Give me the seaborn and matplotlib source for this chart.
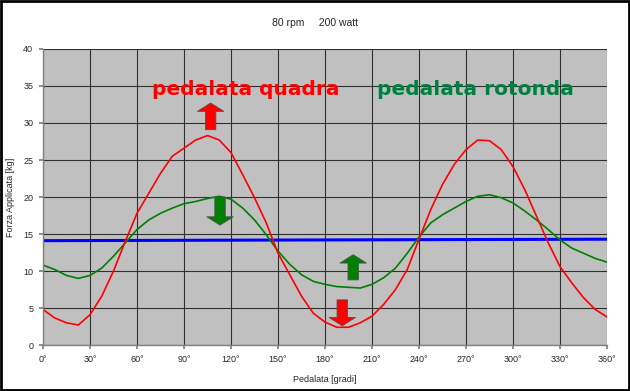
import seaborn as sns
import matplotlib.pyplot as plt
import pandas as pd
from matplotlib.patches import Rectangle

# Dati (passo di 7,5 gradi)
gradi = [i * 7.5 for i in range(49)]
forza_quadra = [4.8, 3.65, 3.0, 2.7, 4.1, 6.6, 10.0, 14.0, 17.8, 20.5, 23.2, 25.5,
                26.6, 27.7, 28.3, 27.7, 26.0, 23.0, 19.9, 16.5, 12.4, 9.5, 6.6, 4.3,
                3.1, 2.4, 2.4, 3.0, 3.9, 5.5, 7.5, 10.2, 14.3, 18.3, 21.7, 24.4,
                26.4, 27.7, 27.6, 26.4, 24.1, 21.0, 17.4, 13.8, 10.6, 8.4, 6.4, 4.8, 3.8]
forza_rotonda = [10.8, 10.2, 9.4, 9.0, 9.4, 10.4, 12.0, 13.8, 15.6, 16.9, 17.8, 18.5,
                 19.1, 19.4, 19.8, 20.1, 19.7, 18.5, 16.9, 14.9, 12.7, 10.9, 9.5, 8.6,
                 8.2, 7.9, 7.8, 7.7, 8.2, 9.1, 10.4, 12.4, 14.6, 16.5, 17.6, 18.5,
                 19.4, 20.1, 20.3, 19.9, 19.2, 18.1, 16.9, 15.6, 14.2, 13.1, 12.4, 11.7, 11.2]

gradi_media = [0, 90, 180, 270, 360]
forza_media = [14.1, 14.15, 14.2, 14.25, 14.3]

tick_gradi = list(range(0, 361, 30))
tick_labels = [f"{g}°" for g in tick_gradi]

dati = pd.DataFrame({"gradi": gradi, "quadra": forza_quadra, "rotonda": forza_rotonda})
media = pd.DataFrame({"gradi": gradi_media, "forza": forza_media})

sns.set_theme(style="white")
plt.rcParams['font.family'] = ['Liberation Sans', 'DejaVu Sans']

fig = plt.figure(figsize=(6.3, 3.91), dpi=100)
ax = fig.add_axes([0.0683, 0.1176, 0.8952, 0.7571])
ax.set_facecolor("#c0c0c0")

sns.lineplot(data=media, x="gradi", y="forza", color="#0000ff", linewidth=2.2, ax=ax)
sns.lineplot(data=dati, x="gradi", y="rotonda", color="#008000", linewidth=1.2, ax=ax)
sns.lineplot(data=dati, x="gradi", y="quadra", color="#ff0000", linewidth=1.2, ax=ax)

ax.set_xlim(0, 360)
ax.set_ylim(0, 40)
ax.set_xticks(tick_gradi)
ax.set_xticklabels(tick_labels)
ax.set_yticks(range(0, 41, 5))
ax.grid(True, color="#303030", linewidth=0.8)
ax.set_axisbelow(True)
ax.tick_params(labelsize=6.5, length=3, color="#808080", direction="out",
               bottom=True, left=True, pad=4)
for s in ["top", "right"]:
    ax.spines[s].set_visible(False)
for s in ["left", "bottom"]:
    ax.spines[s].set_color("#808080")
    ax.spines[s].set_linewidth(1)

ax.set_xlabel("Pedalata [gradi]", fontsize=6.5, labelpad=8)
ax.set_ylabel("Forza Applicata [kg]", fontsize=6.5, labelpad=6)
fig.suptitle("80 rpm     200 watt", fontsize=7.5, y=0.955)

# Scritte e frecce
ax.text(129.5, 34.5, "pedalata quadra", color="#ff0000", fontsize=14.5,
        family="DejaVu Sans", fontweight="bold", ha="center", va="center")
ax.text(276, 34.5, "pedalata rotonda", color="#008040", fontsize=14.5,
        family="DejaVu Sans", fontweight="bold", ha="center", va="center")

stile = "simple,head_length=0.6,head_width=1.9,tail_width=0.75"
frecce = [((107, 29.1), (107, 32.7), "#ff0000"),
          ((113, 20.0), (113, 16.2), "#008000"),
          ((198, 8.8), (198, 12.2), "#008000"),
          ((191, 6.1), (191, 2.6), "#ff0000")]
for inizio, fine, col in frecce:
    ax.annotate("", xy=fine, xytext=inizio,
                arrowprops=dict(arrowstyle=stile, fc=col, ec="#505050", lw=0.6,
                                shrinkA=0, shrinkB=0, mutation_scale=10))

fig.add_artist(Rectangle((0.002, 0.003), 0.996, 0.994, transform=fig.transFigure,
                         fill=False, edgecolor="black", linewidth=2))

fig.savefig("out.png", dpi=100)
